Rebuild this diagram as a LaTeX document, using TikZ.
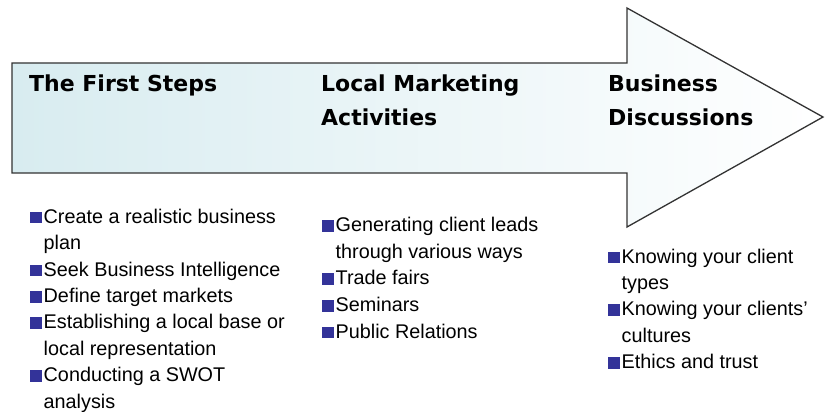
\documentclass[tikz,border=0pt]{standalone}
\usepackage{fontspec}
\setmainfont{Liberation Sans}
\newfontfamily\headfont{DejaVu Sans}
\definecolor{bulletblue}{HTML}{333399}
\definecolor{shaftcyan}{HTML}{D8ECF0}
\definecolor{outline}{HTML}{333333}
\newcommand{\bsq}{\textcolor{bulletblue}{\rule{11.5pt}{11.5pt}}\hspace{2pt}}
\newcommand{\cont}{\hspace*{13.5pt}}
\tikzset{
  heading/.style={anchor=base west, inner sep=0pt, font=\headfont\bfseries\fontsize{22}{26}\selectfont},
  item/.style={anchor=base west, inner sep=0pt, font=\fontsize{19.8}{24}\selectfont},
}
\begin{document}
\begin{tikzpicture}[x=1pt,y=-1pt]
  \useasboundingbox (0,0) rectangle (825,412);
  % process arrow
  \shade[left color=shaftcyan, right color=white, draw=outline, line width=1.3pt, line join=miter]
    (12,63) -- (627,63) -- (627,8) -- (823,117) -- (627,227) -- (627,173) -- (12,173) -- cycle;
  % stage headings
  \node[heading] (h1) at (29,92) {The First Steps};
  \node[heading] (h2a) at (321,92) {Local Marketing};
  \node[heading] (h2b) at (321,125) {Activities};
  \node[heading] (h3a) at (608,92) {Business};
  \node[heading] (h3b) at (608,125) {Discussions};
  % first stage items
  \foreach \t [count=\i] in {
      {\bsq Create a realistic business}, {\cont plan},
      {\bsq Seek Business Intelligence}, {\bsq Define target markets},
      {\bsq Establishing a local base or}, {\cont local representation},
      {\bsq Conducting a SWOT}, {\cont analysis}}
    \node[item] (a\i) at (30,223.3+26.4*\i-26.4) {\t};
  % second stage items
  \foreach \t [count=\i] in {
      {\bsq Generating client leads}, {\cont through various ways},
      {\bsq Trade fairs}, {\bsq Seminars}, {\bsq Public Relations}}
    \node[item] (b\i) at (322,231.7+26.6*\i-26.6) {\t};
  % third stage items
  \foreach \t [count=\i] in {
      {\bsq Knowing your client}, {\cont types},
      {\bsq Knowing your clients’}, {\cont cultures},
      {\bsq Ethics and trust}}
    \node[item] (c\i) at (608,263.3+26.3*\i-26.3) {\t};
\end{tikzpicture}
\end{document}
